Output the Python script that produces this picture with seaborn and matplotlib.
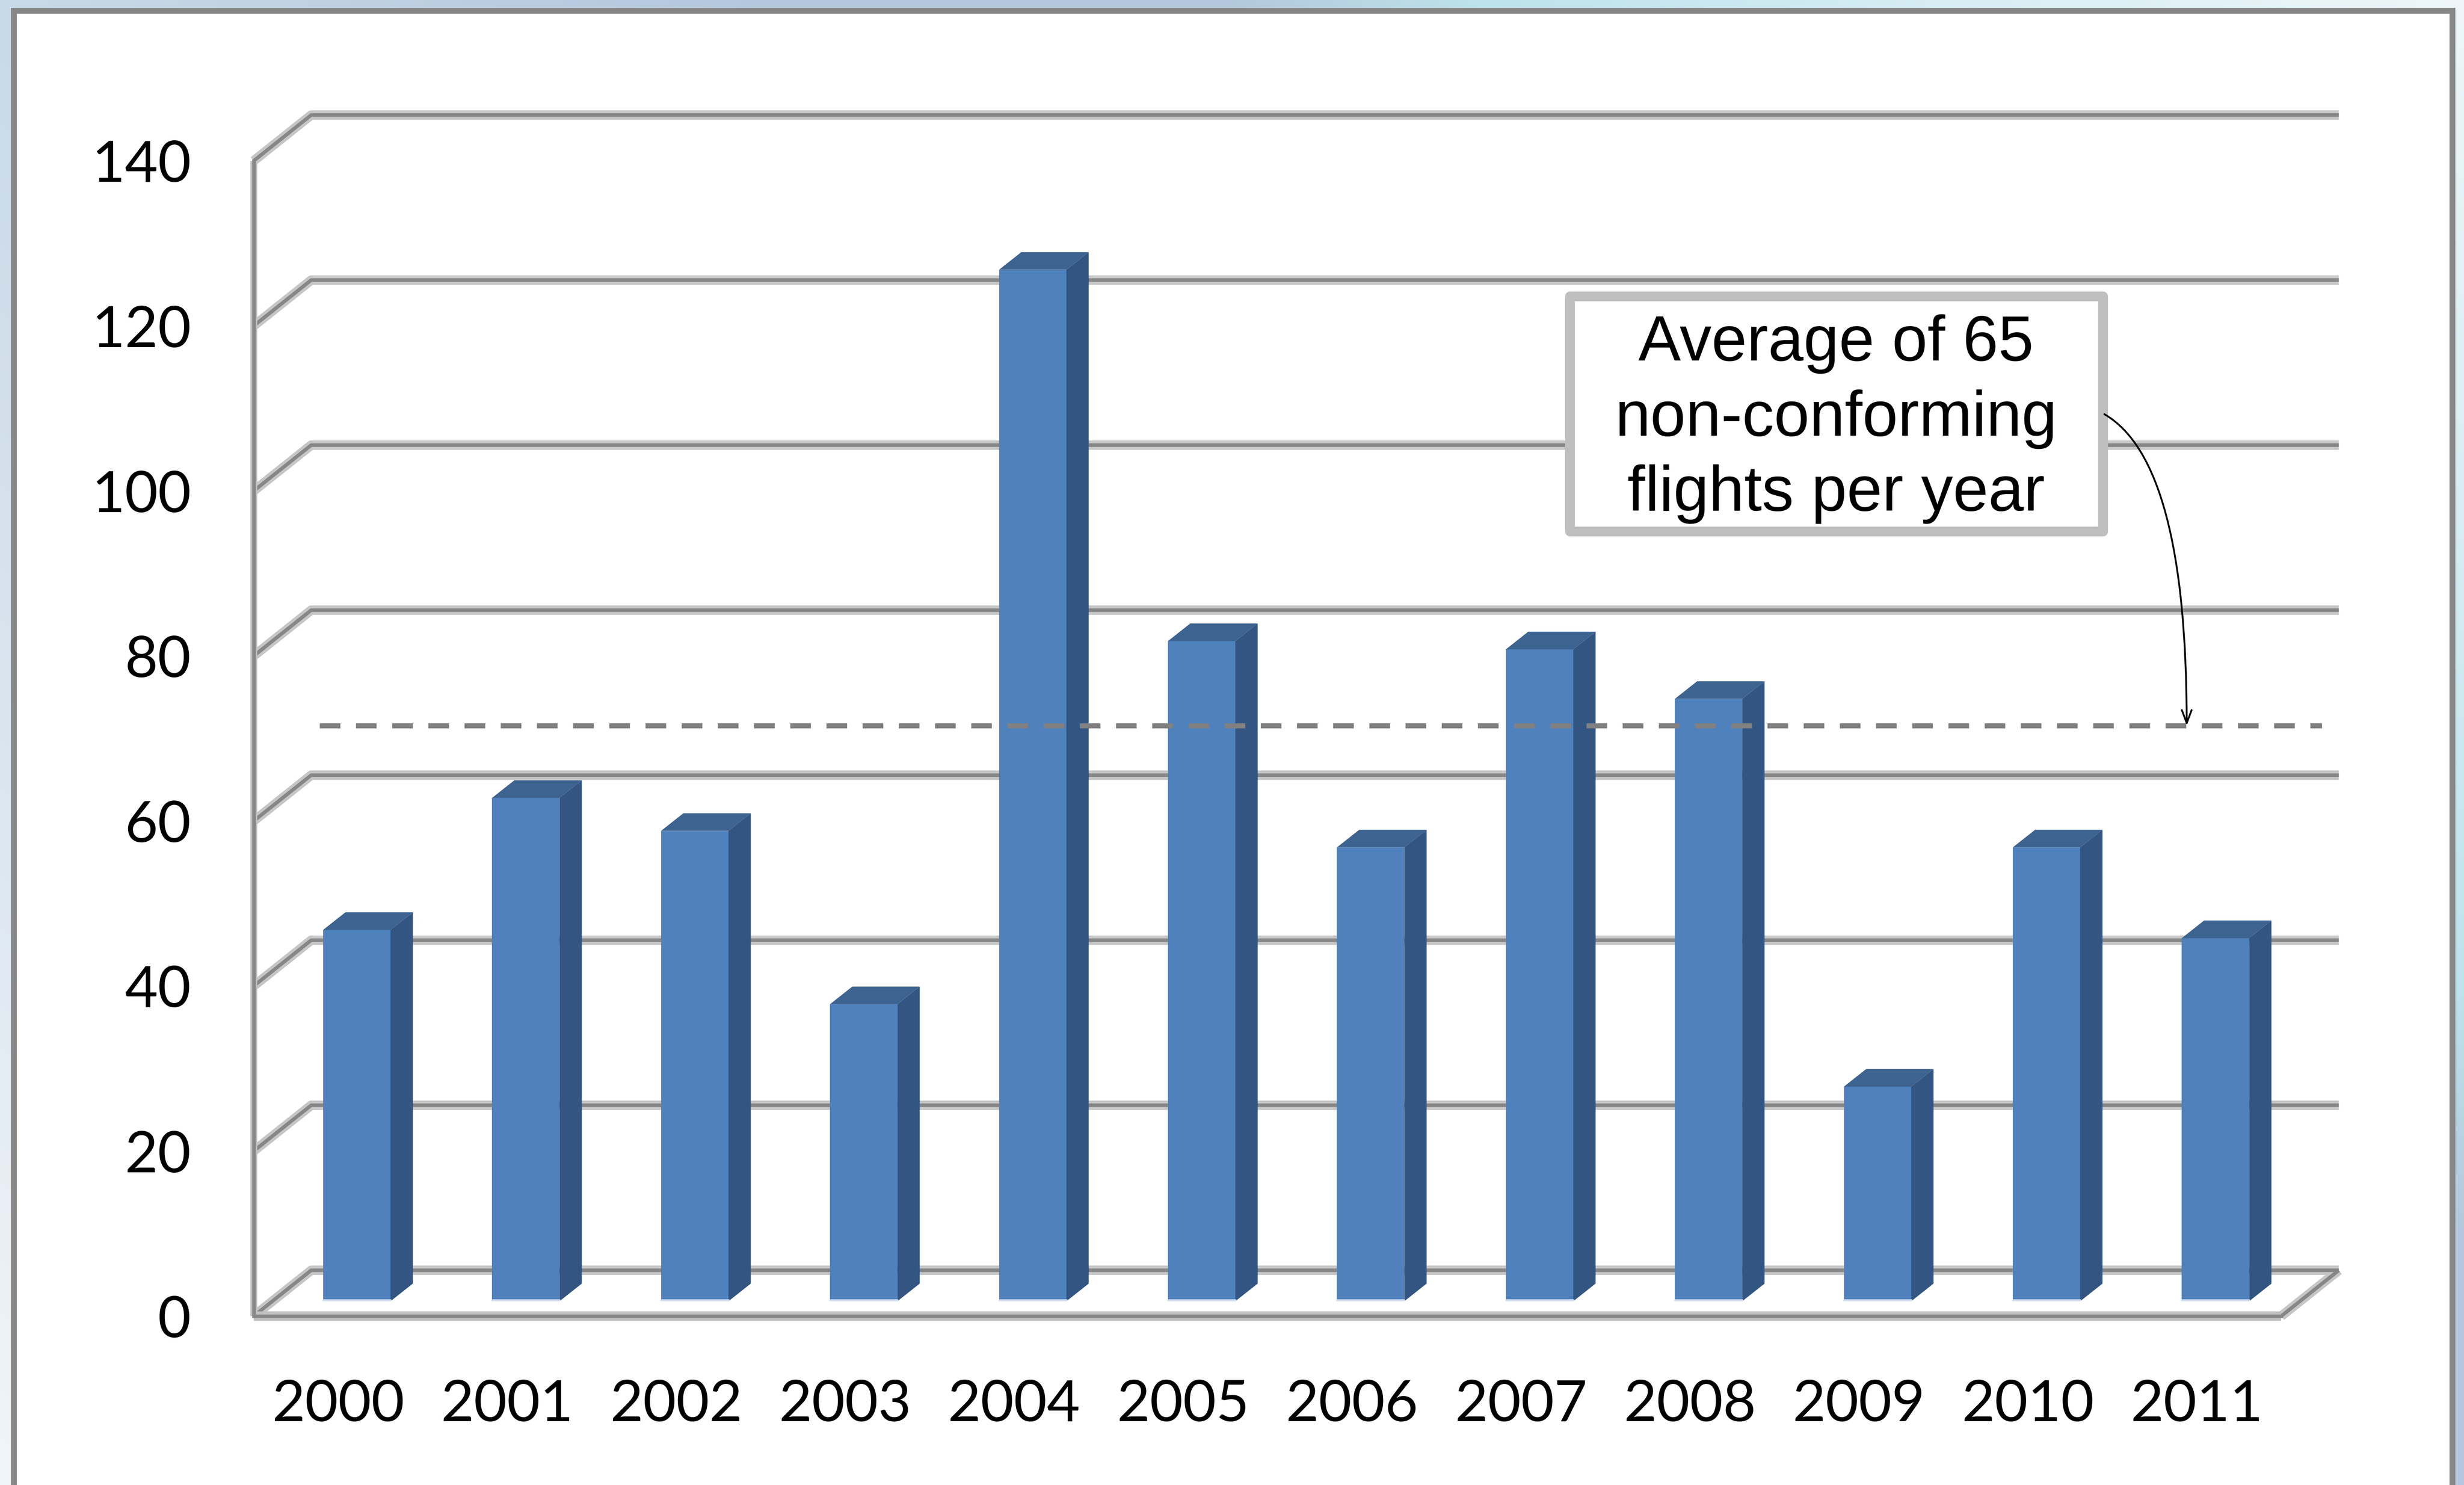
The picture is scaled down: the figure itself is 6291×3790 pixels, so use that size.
import numpy as np
import matplotlib
matplotlib.use("Agg")
import matplotlib.pyplot as plt
from matplotlib.patches import Polygon, Rectangle
import seaborn as sns

# data
YEARS = ["2000", "2001", "2002", "2003", "2004", "2005",
         "2006", "2007", "2008", "2009", "2010", "2011"]
COUNTS = [45, 61, 57, 36, 125, 80, 55, 79, 73, 26, 55, 44]
Y_TICKS = [0, 20, 40, 60, 80, 100, 120, 140]
AVG_LEVEL = 66          # dashed line, measured on the back wall
NOTE_LINES = ["Average of 65", "non-conforming", "flights per year"]

W, H, DPI = 6291, 3790, 300

# pseudo-3D box layout (pixels of the target picture)
PX0, PXC = 911.0, 431.4      # x pixel of first bar centre, pixels per category
PY0, PYV = 3321.0, 21.06     # y pixel of bar base, pixels per unit
DX, DY = 147 / PXC, 117 / PYV    # floor depth vector in data units
T0 = 0.325                       # depth of bar front faces
BDX, BDY = 57 / PXC, 45 / PYV    # bar depth vector
BAR_W = 172 / PXC

FRONT = "#4f81bd"
SIDE = "#335581"
TOP = "#3d6390"
GRID_DARK = "#878787"
GRID_LIGHT = "#c6c6c6"


def fx(u, t):
    return u + (t - T0) * DX


def fy(v, t):
    return v + (t - T0) * DY


def box_line(ax, xs, ys, z=1):
    ax.plot(xs, ys, color=GRID_LIGHT, lw=5.8, solid_capstyle="butt", zorder=z)
    ax.plot(xs, ys, color=GRID_DARK, lw=2.2, solid_capstyle="butt", zorder=z + 0.1)


sns.set_style("white")
plt.rcParams["font.family"] = ["Lato", "DejaVu Sans"]
plt.rcParams["text.color"] = "black"

fig = plt.figure(figsize=(W / DPI, H / DPI), dpi=DPI)

# slide background + white panel
bg = fig.add_axes([0, 0, 1, 1], zorder=0)
gx, gy = np.meshgrid(np.linspace(0, 1, 400), np.linspace(0, 1, 240))
s = gx - 0.6 * gy
stops = [-0.6, -0.3, 0.0, 0.3, 0.5, 0.6, 0.8, 1.0]
cols = np.array([[240, 245, 249], [218, 229, 239], [201, 217, 231], [180, 200, 222],
                 [179, 200, 220], [189, 227, 236], [216, 238, 244], [238, 246, 249]]) / 255
img = np.dstack([np.interp(s, stops, cols[:, k]) for k in range(3)])
bg.imshow(img, extent=(0, W, H, 0), aspect="auto")
bg.add_patch(Rectangle((34.5, 26.5), 6226, 3900, facecolor="white",
                       edgecolor="#878787", lw=3.6))
bg.set_xlim(0, W)
bg.set_ylim(H, 0)
bg.axis("off")

ax = fig.add_axes([0, 0, 1, 1], zorder=1)
ax.set_facecolor("none")

# back wall and left wall gridlines
for v in Y_TICKS:
    box_line(ax, [fx(-0.5, 0), fx(-0.5, 1), fx(11.5, 1)],
             [fy(v, 0), fy(v, 1), fy(v, 1)])
# floor right edge
box_line(ax, [fx(11.5, 0), fx(11.5, 1)], [fy(0, 0), fy(0, 1)])
# floor front edge underlay
ax.plot([fx(-0.5, 0), fx(11.5, 0)], [fy(0, 0)] * 2, color="#c0c0c0", lw=5.8,
        solid_capstyle="butt", zorder=2)
ax.plot([fx(-0.5, 0)] * 2, [fy(0, 0), fy(140, 0)], color="#c0c0c0", lw=4.2,
        solid_capstyle="butt", zorder=2)

# front faces of the bars
sns.barplot(x=YEARS, y=COUNTS, color=FRONT, saturation=1, width=BAR_W,
            linewidth=0, ax=ax, zorder=4)
for p in list(ax.patches):
    x0, w, h = p.get_x(), p.get_width(), p.get_height()
    side = [(x0 + w, 0), (x0 + w, h), (x0 + w + BDX, h + BDY), (x0 + w + BDX, BDY)]
    top = [(x0, h), (x0 + w, h), (x0 + w + BDX, h + BDY), (x0 + BDX, h + BDY)]
    ax.add_patch(Polygon(side, closed=True, facecolor=SIDE, edgecolor="none", zorder=4))
    ax.add_patch(Polygon(top, closed=True, facecolor=TOP, edgecolor="none", zorder=4))
    ax.plot([x0, x0 + w], [0.15, 0.15], color="#d3deef", lw=1.2, zorder=4.1)

# average line
ax.plot([fx(-0.45, 1), fx(11.4, 1)], [fy(AVG_LEVEL, 1)] * 2, color="#808080",
        lw=3.1, ls=(0, (53 / 13, 40 / 13)), zorder=6)

# note box and arrow
bx0, bx1 = (4007.5 - PX0) / PXC, (5368.5 - PX0) / PXC
by0, by1 = (PY0 - 1355.5) / PYV, (PY0 - 755.5) / PYV
ax.add_patch(Rectangle((bx0, by0), bx1 - bx0, by1 - by0, facecolor="white",
                       edgecolor="#bfbfbf", lw=6, joinstyle="round", zorder=7))
for k, line in enumerate(NOTE_LINES):
    ax.text((bx0 + bx1) / 2, 114.0 - 9.1 * k, line, ha="center", va="baseline",
            fontsize=39, color="black", family=["Liberation Sans", "DejaVu Sans"],
            zorder=8)
ax.annotate("", xy=(fx(10.6, 1), fy(AVG_LEVEL, 1)), xytext=(bx1 + 0.01, 107.5),
            arrowprops=dict(arrowstyle="->,head_length=0.4,head_width=0.15",
                            mutation_scale=20, color="black", lw=1.1,
                            connectionstyle="angle3,angleA=-30,angleB=90",
                            shrinkA=0, shrinkB=0),
            zorder=8)

# axes, spines, ticks
ax.set_xlim((0 - PX0) / PXC, (W - PX0) / PXC)
ax.set_ylim((PY0 - H) / PYV, PY0 / PYV)
ax.set_xlabel("")
ax.set_ylabel("")
ax.grid(False)
for side_name in ["top", "right"]:
    ax.spines[side_name].set_visible(False)
ax.spines["left"].set_position(("data", fx(-0.5, 0)))
ax.spines["left"].set_bounds(fy(0, 0), fy(140, 0))
ax.spines["bottom"].set_position(("data", fy(0, 0)))
ax.spines["bottom"].set_bounds(fx(-0.5, 0), fx(11.5, 0))
for side_name in ["left", "bottom"]:
    ax.spines[side_name].set_color(GRID_DARK)
    ax.spines[side_name].set_linewidth(2.2)
    ax.spines[side_name].set_zorder(3)

ax.set_yticks([fy(v, 0) for v in Y_TICKS], [str(v) for v in Y_TICKS])
ax.set_xticks([fx(u, 0) for u in np.arange(-0.5, 12, 1.0)], [""] * 13)
ax.set_xticks([fx(i, 0) for i in range(len(YEARS))], YEARS, minor=True)
ax.tick_params(axis="y", direction="out", length=13.7, width=2.7, color=GRID_DARK,
               pad=24.7, labelsize=35, labelcolor="black")
ax.tick_params(axis="x", which="major", direction="out", length=10, width=2.7,
               color=GRID_DARK)
ax.tick_params(axis="x", which="minor", length=0, pad=38.6, labelsize=35,
               labelcolor="black")

fig.savefig("out.png", dpi=DPI)
